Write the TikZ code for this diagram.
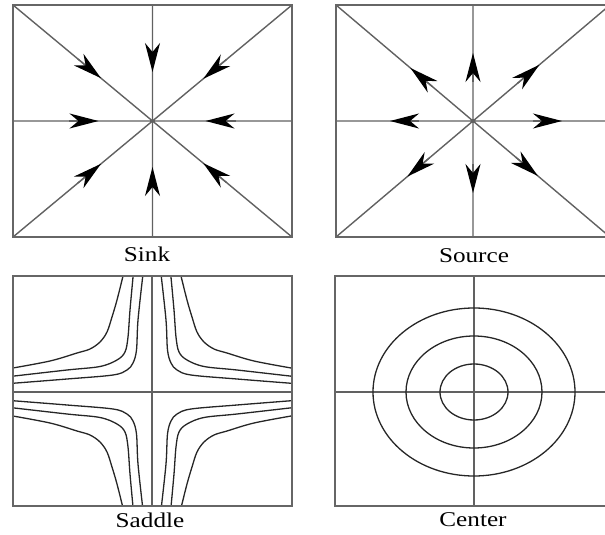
\documentclass[tikz,border=0pt]{standalone}
\usepackage{fontspec}
\setmainfont{Liberation Serif}
\usetikzlibrary{arrows.meta,calc}
\begin{document}
\begin{tikzpicture}[x=1pt,y=-1pt,
  frame/.style={draw=black!60,line width=1.8pt},
  axis/.style={draw=black!62,line width=1.4pt},
  traj/.style={draw=black!85,line width=1.3pt},
  arr/.style={draw=black!62,line width=1.4pt,-{Stealth[length=29pt,width=15pt,inset=9pt,color=black]}},
  lbl/.style={font=\fontsize{21}{25}\selectfont,xscale=1.2,anchor=base,inner sep=0pt}]
\useasboundingbox (0,0) rectangle (605,535);
% ---------- Sink ----------
\coordinate (sk) at (152.5,121);
\coordinate (skTL) at (13,5);
\coordinate (skTR) at (292,5);
\coordinate (skBL) at (13,237);
\coordinate (skBR) at (292,237);
\coordinate (skT) at (152.5,5);
\coordinate (skB) at (152.5,237);
\coordinate (skL) at (13,121);
\coordinate (skR) at (292,121);
\draw[axis] (skTL) -- (skBR) (skTR) -- (skBL) (skT) -- (skB) (skL) -- (skR);
\draw[frame] (skTL) rectangle (skBR);
\foreach \c/\d in {skT/49,skB/46,skL/54,skR/53,skTL/67,skTR/66,skBL/67,skBR/66}{
  \draw[arr] ($(sk)!\d pt+30pt!(\c)$) -- ($(sk)!\d pt!(\c)$);
}
\node[lbl] (sinklabel) at (147,261) {Sink};
% ---------- Source ----------
\coordinate (so) at (473,121);
\coordinate (soTL) at (336,5);
\coordinate (soTR) at (610,5);
\coordinate (soBL) at (336,237);
\coordinate (soBR) at (610,237);
\coordinate (soT) at (473,5);
\coordinate (soB) at (473,237);
\coordinate (soL) at (336,121);
\coordinate (soR) at (610,121);
\draw[axis] (soTL) -- (soBR) (soTR) -- (soBL) (soT) -- (soB) (soL) -- (soR);
\draw[frame] (soTL) rectangle (soBR);
\foreach \c/\d in {soT/68,soB/72,soL/83,soR/89,soTL/82,soTR/87,soBL/86,soBR/85}{
  \draw[arr] ($(so)!\d pt-29pt!(\c)$) -- ($(so)!\d pt!(\c)$);
}
\node[lbl] (sourcelabel) at (474,262) {Source};
% ---------- Saddle ----------
\coordinate (sa) at (152,392);
\begin{scope}
  \clip (13,276) rectangle (292,506);
  \foreach \sx/\sy in {-1/-1,1/-1,-1/1,1/1}{
    \begin{scope}[shift={(sa)},xscale=\sx,yscale=\sy]
      \draw[traj] plot[smooth,tension=0.55] coordinates {(142,23.5) (102,31) (75,39) (62,43) (52,50) (45,60) (40,75) (35,92) (28.5,118)};
      \draw[traj] plot[smooth,tension=0.55] coordinates {(142,15.5) (85,22) (52,25.5) (35,32) (27,40) (24,55) (22,82) (18.7,118)};
      \draw[traj] plot[smooth,tension=0.55] coordinates {(142,8.5) (85,13) (39,17) (25,22) (19,29) (15.5,42) (14,72) (9,118)};
    \end{scope}
  }
\end{scope}
\draw[axis] (152,276) -- (152,506) (13,392) -- (292,392);
\draw[frame] (13,276) rectangle (292,506);
\node[lbl] (saddlelabel) at (150,527) {Saddle};
% ---------- Center ----------
\coordinate (ce) at (474,392);
\draw[axis] (474,276) -- (474,506) (335,392) -- (610,392);
\draw[traj] (ce) ellipse [x radius=101,y radius=84];
\draw[traj] (ce) ellipse [x radius=68,y radius=56];
\draw[traj] (ce) ellipse [x radius=34,y radius=28];
\draw[frame] (335,276) rectangle (610,506);
\node[lbl] (centerlabel) at (473,526) {Center};
\end{tikzpicture}
\end{document}
